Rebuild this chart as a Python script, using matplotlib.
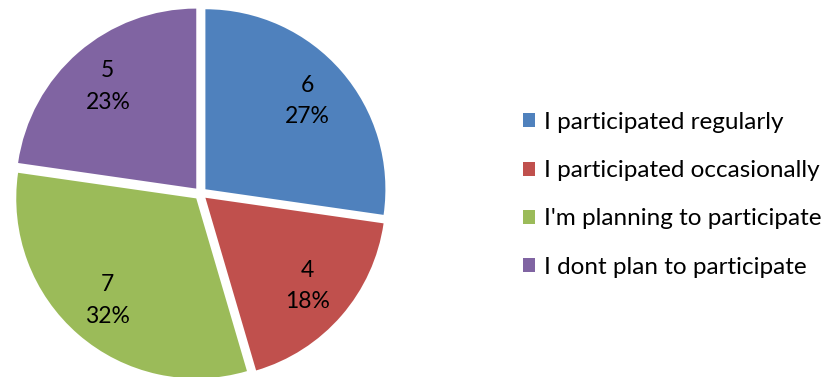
import matplotlib
matplotlib.use("Agg")
import matplotlib.pyplot as plt

categories = ["I participated regularly", "I participated occasionally",
              "I'm planning to participate", "I dont plan to participate"]
counts = [6, 4, 7, 5]
percent_labels = ["27%", "18%", "32%", "23%"]
colors = ["#4F81BD", "#C0504D", "#9BBB59", "#8064A2"]

plt.rcParams["font.family"] = ["Lato", "DejaVu Sans"]

W, H = 831, 377
fig = plt.figure(figsize=(W / 100, H / 100), dpi=100)
ax = fig.add_axes([0, 0, 1, 1])

labels_iter = iter(zip(counts, percent_labels))


def fmt(_pct):
    c, p = next(labels_iter)
    return f"{c}\n{p}"


wedges, texts, autotexts = ax.pie(
    counts, colors=colors, startangle=90, counterclock=False,
    explode=[0.036] * 4, autopct=fmt, pctdistance=0.75,
    radius=1.0, center=(0, 0), frame=False,
    wedgeprops=dict(linewidth=0),
    textprops=dict(fontsize=16.5, color="black", linespacing=1.6),
)
for t in autotexts:
    t.set_horizontalalignment("center")
    t.set_verticalalignment("center")

# pie centre and radius in pixels
cx, cy, r = 200.5, 193.5, 180.0
ax.set_aspect("auto")
ax.set_xlim(-cx / r, (W - cx) / r)
ax.set_ylim(-(H - cy) / r, cy / r)
ax.axis("off")

leg = ax.legend(wedges, categories, loc="upper left",
                bbox_to_anchor=(523 / W, 1 - 112 / H), bbox_transform=fig.transFigure,
                frameon=False, fontsize=17.5, handlelength=0.5, handleheight=0.5,
                handletextpad=0.35, labelspacing=1.12, borderaxespad=0, borderpad=0)

fig.savefig("out.png", dpi=100)
